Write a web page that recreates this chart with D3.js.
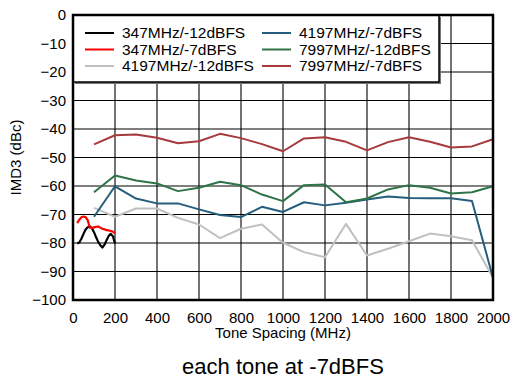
<!DOCTYPE html>
<html>
<head>
<meta charset="utf-8">
<script src="https://cdn.jsdelivr.net/npm/d3@7"></script>
<style>
  html, body { margin: 0; padding: 0; background: #fff; }
  svg { display: block; font-family: "Liberation Sans", Arial, Helvetica, sans-serif; }
</style>
</head>
<body>
<div id="chart"></div>
<script>
// Tone spacing (MHz) for the coarse sweeps
const spacingCoarse = [100, 200, 300, 400, 500, 600, 700, 800, 900, 1000,
  1100, 1200, 1300, 1400, 1500, 1600, 1700, 1800, 1900, 2000];
// Tone spacing (MHz) for the fine 347MHz sweeps
const spacingFine = [20, 30, 40, 50, 60, 70, 80, 90, 100, 110,
  120, 130, 140, 150, 160, 170, 180, 190, 200];

// IMD3 (dBc) per series
const imd347m12 = [-80.2, -79.8, -78.5, -76.8, -75.3, -74.5, -74.2, -74.8, -76.2, -78.0,
  -79.6, -80.8, -81.6, -80.6, -79.0, -77.5, -76.8, -77.6, -80.2];
const imd347m7 = [-73.0, -71.8, -71.0, -70.7, -70.9, -72.0, -74.6, -74.7, -74.5, -74.3,
  -74.2, -74.6, -75.0, -75.2, -75.5, -75.6, -75.8, -76.0, -76.6];
const imd4197m12 = [-67.7, -70.8, -67.9, -67.9, -71.2, -73.5, -78.3, -75.0, -73.5, -79.9,
  -83.2, -85.0, -73.3, -84.4, -82.0, -79.4, -76.7, -77.6, -79.0, -92.2];
const imd4197m7 = [-70.8, -60.1, -64.4, -66.1, -66.1, -68.2, -70.2, -70.9, -67.3, -69.1,
  -65.7, -66.8, -65.9, -64.7, -63.7, -64.2, -64.3, -64.3, -65.3, -92.2];
const imd7997m12 = [-62.2, -56.3, -58.1, -59.1, -61.8, -60.6, -58.5, -59.7, -63.0, -65.3,
  -59.7, -59.5, -65.7, -64.4, -61.2, -59.7, -60.6, -62.6, -62.2, -60.1];
const imd7997m7 = [-45.4, -42.2, -41.9, -43.1, -45.0, -44.3, -41.7, -43.2, -45.3, -47.8,
  -43.3, -42.9, -44.5, -47.5, -44.6, -42.9, -44.5, -46.5, -46.1, -43.6];

const seriesNames = ["347MHz/-12dBFS", "347MHz/-7dBFS", "4197MHz/-12dBFS",
  "4197MHz/-7dBFS", "7997MHz/-12dBFS", "7997MHz/-7dBFS"];
const seriesColors = ["#000000", "#ff0000", "#c0c0c0", "#245e7c", "#2f7349", "#a63a3c"];

const xTicks = [0, 200, 400, 600, 800, 1000, 1200, 1400, 1600, 1800, 2000];
const yTicks = [0, -10, -20, -30, -40, -50, -60, -70, -80, -90, -100];

const series = [
  { x: spacingFine, y: imd347m12 },
  { x: spacingFine, y: imd347m7 },
  { x: spacingCoarse, y: imd4197m12 },
  { x: spacingCoarse, y: imd4197m7 },
  { x: spacingCoarse, y: imd7997m12 },
  { x: spacingCoarse, y: imd7997m7 }
].map((s, i) => ({
  name: seriesNames[i],
  color: seriesColors[i],
  points: s.x.map((v, j) => ({ f: v, v: s.y[j] }))
}));

const width = 511, height = 379;
const margin = { top: 15, right: 18, bottom: 79, left: 73 };

const svg = d3.select("#chart").append("svg")
  .attr("width", width)
  .attr("height", height);

const x = d3.scaleLinear()
  .domain([0, 2000])
  .range([margin.left, width - margin.right]);

const y = d3.scaleLinear()
  .domain([-100, 0])
  .range([height - margin.bottom, margin.top]);

// Grid lines
svg.append("g")
  .selectAll("line")
  .data(xTicks.slice(1, -1))
  .join("line")
  .attr("x1", d => x(d)).attr("x2", d => x(d))
  .attr("y1", y(0)).attr("y2", y(-100))
  .attr("stroke", "#000")
  .attr("stroke-width", 1.1);

svg.append("g")
  .selectAll("line")
  .data(yTicks.slice(1, -1))
  .join("line")
  .attr("x1", x(0)).attr("x2", x(2000))
  .attr("y1", d => y(d)).attr("y2", d => y(d))
  .attr("stroke", "#000")
  .attr("stroke-width", 1.1);

// Series lines
const line = d3.line()
  .x(d => x(d.f))
  .y(d => y(d.v));

svg.append("g")
  .selectAll("path")
  .data(series)
  .join("path")
  .attr("fill", "none")
  .attr("stroke", d => d.color)
  .attr("stroke-width", (d, i) => i < 2 ? 2.2 : 2)
  .attr("stroke-linejoin", "round")
  .attr("d", d => line(d.points));

// Legend box (covers the upper grid)
const legend = svg.append("g");
const lx0 = x(0), lx1 = 439, ly0 = y(0), ly1 = 82;

legend.append("rect")
  .attr("x", lx0 + 2).attr("y", ly0 + 2)
  .attr("width", lx1 - lx0).attr("height", ly1 - ly0)
  .attr("fill", "#777");

legend.append("rect")
  .attr("x", lx0).attr("y", ly0)
  .attr("width", lx1 - lx0).attr("height", ly1 - ly0)
  .attr("fill", "#fff")
  .attr("stroke", "#000")
  .attr("stroke-width", 1.5);

const items = legend.selectAll("g.item")
  .data(series)
  .join("g")
  .attr("class", "item")
  .attr("transform", (d, i) => `translate(${i < 3 ? 85 : 262},${33 + (i % 3) * 16.5})`);

items.append("line")
  .attr("x1", 0).attr("x2", 29)
  .attr("stroke", d => d.color)
  .attr("stroke-width", 2);

items.append("text")
  .attr("x", 37)
  .attr("dy", "0.35em")
  .style("font-size", "15.5px")
  .style("fill", "#000")
  .text(d => d.name);

// Plot border
svg.append("rect")
  .attr("x", x(0)).attr("y", y(0))
  .attr("width", x(2000) - x(0))
  .attr("height", y(-100) - y(0))
  .attr("fill", "none")
  .attr("stroke", "#000")
  .attr("stroke-width", 2.5);

// Axes
const xAxis = svg.append("g")
  .attr("transform", `translate(0,${y(-100)})`)
  .call(d3.axisBottom(x).tickValues(xTicks).tickSize(0).tickPadding(12).tickFormat(d3.format("d")));
xAxis.select(".domain").remove();
xAxis.selectAll("text")
  .style("font-size", "15px")
  .style("font-family", "\"Liberation Sans\", Arial, sans-serif")
  .style("fill", "#000");

const yAxis = svg.append("g")
  .attr("transform", `translate(${x(0)},0)`)
  .call(d3.axisLeft(y).tickValues(yTicks).tickSize(0).tickPadding(7).tickFormat(d3.format("d")));
yAxis.select(".domain").remove();
yAxis.selectAll("text")
  .style("font-size", "15px")
  .style("font-family", "\"Liberation Sans\", Arial, sans-serif")
  .style("fill", "#000");

// Axis titles
svg.append("text")
  .attr("x", (x(0) + x(2000)) / 2)
  .attr("y", 338)
  .attr("text-anchor", "middle")
  .style("font-size", "15px")
  .text("Tone Spacing (MHz)");

svg.append("text")
  .attr("transform", `translate(21,${(y(0) + y(-100)) / 2}) rotate(-90)`)
  .attr("text-anchor", "middle")
  .style("font-size", "15px")
  .text("IMD3 (dBc)");

// Caption
svg.append("text")
  .attr("x", (x(0) + x(2000)) / 2)
  .attr("y", 374)
  .attr("text-anchor", "middle")
  .style("font-size", "22px")
  .text("each tone at -7dBFS");
</script>
</body>
</html>
